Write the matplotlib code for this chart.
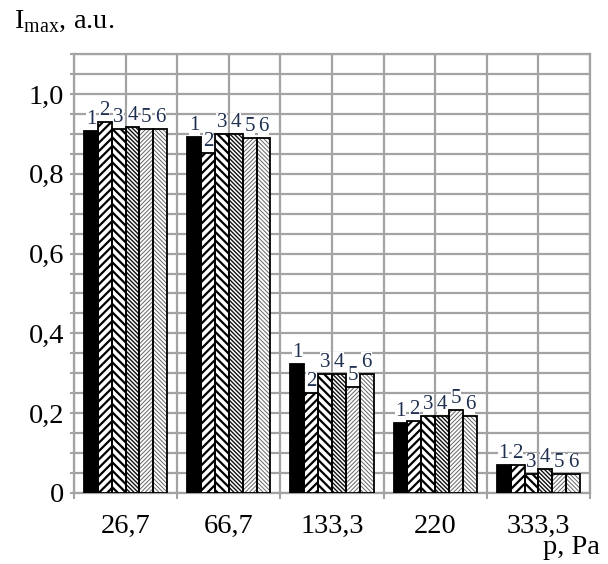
import numpy as np
import matplotlib
matplotlib.use("Agg")
import matplotlib.pyplot as plt
from matplotlib.ticker import MultipleLocator, FuncFormatter

plt.rcParams['font.family'] = ['Liberation Serif', 'DejaVu Serif']
plt.rcParams['mathtext.fontset'] = 'custom'
plt.rcParams['mathtext.rm'] = 'Liberation Serif'

# pressure categories
pressures = ['26,7', '66,7', '133,3', '220', '333,3']

# I_max for the six series (1..6), one value per pressure
series_1 = [0.908, 0.891, 0.323, 0.175, 0.070]
series_2 = [0.929, 0.852, 0.250, 0.181, 0.069]
series_3 = [0.912, 0.899, 0.299, 0.194, 0.047]
series_4 = [0.918, 0.899, 0.299, 0.194, 0.059]
series_5 = [0.912, 0.889, 0.266, 0.207, 0.047]
series_6 = [0.912, 0.889, 0.299, 0.194, 0.047]
series_names = ['1', '2', '3', '4', '5', '6']

all_series = [series_1, series_2, series_3, series_4, series_5, series_6]
# (facecolor, hatch, hatch colour, hatch linewidth)
styles = [
    ('black', None, 'black', 1.0),
    ('white', '////', 'black', 1.6),
    ('white', '\\\\\\\\', 'black', 1.6),
    ('white', '\\\\\\\\\\\\\\\\', '#111111', 1.0),
    ('white', '////////', '#666666', 0.7),
    ('white', '\\\\\\\\\\\\\\\\', '#666666', 0.7),
]

fig = plt.figure(figsize=(6.08, 5.64), dpi=100)
ax = fig.add_axes([74 / 608, 1 - 493 / 564, (590 - 74) / 608, (493 - 54) / 564])

grid_col = '#a3a3a3'
x = np.arange(len(pressures))
w = 0.806 / 6
for i, vals in enumerate(all_series):
    fc, hatch, hc, hlw = styles[i]
    pos = x + (i - 2.5) * w
    bars = ax.bar(pos, vals, width=w, color=fc, edgecolor=hc, hatch=hatch, linewidth=0, zorder=3)
    for b in bars:
        if hasattr(b, 'set_hatch_linewidth'):
            b.set_hatch_linewidth(hlw)
    # black outline drawn separately so hatch colour can differ
    ax.bar(pos, vals, width=w, fill=False, edgecolor='black', linewidth=1.3, zorder=4)
    for px, v in zip(pos, vals):
        ax.text(px, v + 0.005, series_names[i], ha='center', va='bottom',
                fontsize=15, color='#1f2f4f', zorder=5,
                bbox=dict(facecolor='white', edgecolor='none', pad=0.2))

ax.set_xlim(-0.5, len(pressures) - 0.5)
ax.set_ylim(0, 1.1)

ax.set_xticks(x)
ax.set_xticklabels(pressures)
ax.xaxis.set_minor_locator(MultipleLocator(1.0, offset=0.5))
ax.yaxis.set_major_locator(MultipleLocator(0.2))
ax.yaxis.set_minor_locator(MultipleLocator(0.05))
ax.yaxis.set_major_formatter(FuncFormatter(lambda v, p: '0' if abs(v) < 1e-9 else ('%.1f' % v).replace('.', ',')))

ax.tick_params(axis='x', which='major', length=0, pad=15, labelsize=20.5)
ax.tick_params(axis='x', which='minor', length=4, width=1.5, color=grid_col, direction='out')
ax.tick_params(axis='y', which='both', length=3, width=1.5, color=grid_col, direction='out', pad=4, labelsize=20.5)

ax.grid(True, which='both', axis='both', color=grid_col, linewidth=1.6, zorder=0)
ax.set_axisbelow(True)
for s in ax.spines.values():
    s.set_color(grid_col)
    s.set_linewidth(1.6)

fig.text(14 / 608, 1 - 28 / 564, r'I$_{\mathrm{max}}$, a.u.', fontsize=20.5, ha='left', va='baseline')
fig.text(600 / 608, 1 - 554 / 564, 'p, Pa', fontsize=20.5, ha='right', va='baseline')

fig.savefig('out.png', dpi=100, facecolor='white')
